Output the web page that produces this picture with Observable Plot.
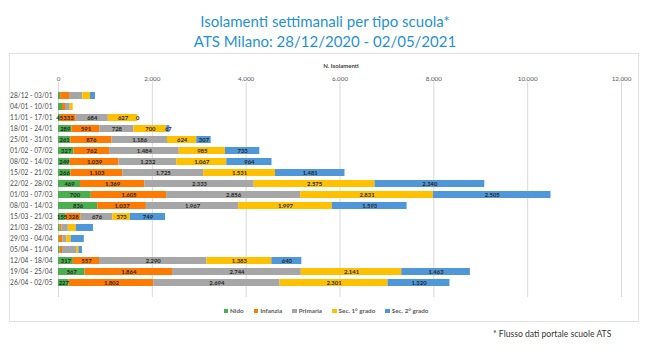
<!DOCTYPE html>
<html><head><meta charset="utf-8">
<script src="https://cdn.jsdelivr.net/npm/d3@7"></script>
<script src="https://cdn.jsdelivr.net/npm/@observablehq/plot@0.6"></script>
<style>
body{margin:0;width:650px;height:361px;background:#fff;font-family:Lato,"Open Sans",sans-serif;position:relative;overflow:hidden}
#title{position:absolute;top:11px;left:0;width:650px;text-align:center;color:#1f91d6;font-size:15px;line-height:20px}
#card{position:absolute;left:9px;top:53px;width:628px;height:267px;border:1px solid #e2e2e2;box-shadow:0 0 2px rgba(0,0,0,.06)}
#card svg{position:absolute;left:0;top:0}
#xlabel{position:absolute;top:8px;left:0;width:662px;text-align:center;font-size:6px;font-weight:bold;color:#404040}
#legend{position:absolute;top:253px;left:0;width:632px;display:flex;justify-content:center;gap:10px;font-size:6.3px;font-weight:bold;color:#595959}
#legend span.sw{display:inline-block;width:4.5px;height:4.5px;margin-right:2px;vertical-align:middle;position:relative;top:-0.5px}
#note{position:absolute;left:493px;top:329px;font-size:8.6px;color:#333}
</style></head>
<body>
<div id="title">Isolamenti settimanali per tipo scuola*<br>ATS Milano: 28/12/2020 - 02/05/2021</div>
<div id="card"><div id="xlabel">N. Isolamenti</div><div id="legend"></div></div>
<div id="note">* Flusso dati portale scuole ATS</div>
<script>
const weeks = ["28/12 - 03/01","04/01 - 10/01","11/01 - 17/01","18/01 - 24/01","25/01 - 31/01","01/02 - 07/02","08/02 - 14/02","15/02 - 21/02","22/02 - 28/02","01/03 - 07/03","08/03 - 14/03","15/03 - 21/03","21/03 - 28/03","29/03 - 04/04","05/04 - 11/04","12/04 - 18/04","19/04 - 25/04","26/04 - 02/05"];
const types = ["Nido","Infanzia","Primaria","Sec. 1° grado","Sec. 2° grado"];
const colors = ["#4caf4f","#ff7a00","#a6a6a6","#ffc000","#4f97d8"];
const nido     = [45, 85, 45, 289, 261, 327, 249, 266, 469, 700, 836, 155, 35, 15, 35, 317, 567, 227];
const infanzia = [190, 64, 333, 591, 876, 762, 1039, 1103, 1369, 1605, 1037, 328, 35, 80, 50, 557, 1864, 1802];
const primaria = [284, 100, 684, 728, 1186, 1484, 1232, 1725, 2333, 2856, 1967, 676, 140, 80, 300, 2290, 2744, 2694];
const sec1     = [163, 64, 627, 700, 624, 985, 1067, 1531, 2575, 2831, 1997, 373, 170, 95, 50, 1383, 2141, 2301];
const sec2     = [107, 0, 0, 67, 307, 733, 964, 1481, 2340, 2505, 1593, 749, 365, 280, 75, 640, 1463, 1320];
const labelled = [false,false,true,true,true,true,true,true,true,true,true,true,false,false,false,true,true,true];
const xTicks = [0,2000,4000,6000,8000,10000,12000];

const series = [nido, infanzia, primaria, sec1, sec2];
const data = [];
weeks.forEach((w, i) => types.forEach((t, j) => data.push({week: w, type: t, value: series[j][i], lab: labelled[i]})));
const fmt = d3.formatLocale({decimal: ",", thousands: ".", grouping: [3], currency: ["€", ""]}).format(",d");

const chart = Plot.plot({
  width: 628, height: 250,
  marginLeft: 48, marginRight: 17, marginTop: 28, marginBottom: 7,
  style: {fontFamily: "Lato, 'Open Sans', sans-serif", background: "transparent"},
  x: {domain: [0, 12000], ticks: xTicks, axis: null},
  y: {domain: weeks, padding: 0.36, axis: null},
  color: {domain: types, range: colors},
  marks: [
    Plot.gridX(xTicks, {stroke: "#d9d9d9", strokeOpacity: 1, strokeWidth: 1}),
    Plot.axisX({anchor: "top", ticks: xTicks, tickSize: 0, tickPadding: 2, tickFormat: fmt, fontSize: 6.3, fill: "#595959", label: null}),
    Plot.axisY({tickSize: 0, tickPadding: 6, fontSize: 6.6, fill: "#4a4a4a", label: null}),
    Plot.barX(data, Plot.stackX({x: "value", y: "week", fill: "type", z: "type"})),
    Plot.text(data.filter(d => d.lab), Plot.stackX({x: "value", y: "week", z: "type", text: d => fmt(d.value), fontSize: 5.9, fontWeight: "bold", fill: "#262626"}))
  ]
});
document.getElementById("card").appendChild(chart);

const lg = document.getElementById("legend");
types.forEach((t, j) => {
  const it = document.createElement("div");
  it.innerHTML = `<span class="sw" style="background:${colors[j]}"></span>${t}`;
  lg.appendChild(it);
});
</script>
</body></html>
